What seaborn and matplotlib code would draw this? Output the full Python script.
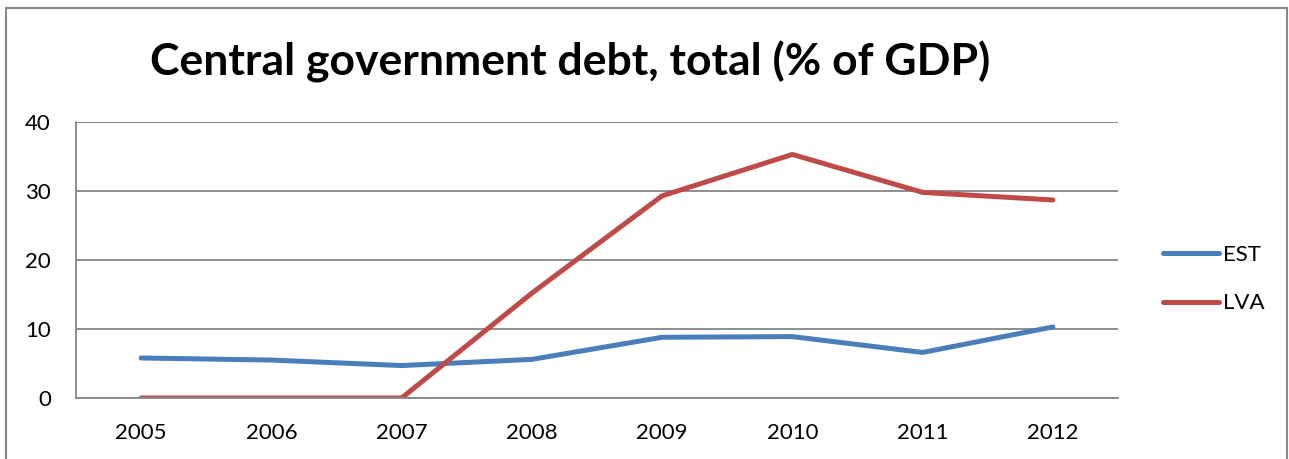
import numpy as np
import pandas as pd
import seaborn as sns
import matplotlib.pyplot as plt
from matplotlib.patches import Rectangle

years = ['2005', '2006', '2007', '2008', '2009', '2010', '2011', '2012']
est = [5.8, 5.5, 4.7, 5.6, 8.8, 8.9, 6.6, 10.3]
lva = [0.0, 0.0, 0.0, 15.2, 29.3, 35.3, 29.8, 28.7]
series = ['EST', 'LVA']
colors = ['#4A7EBB', '#BE4B48']

df = pd.DataFrame({
    'year': years * 2,
    'value': est + lva,
    'country': ['EST'] * len(years) + ['LVA'] * len(years),
})

sns.set_theme(style='white', rc={'text.color': 'black'})
plt.rcParams['font.family'] = ['Lato', 'DejaVu Sans']

fig = plt.figure(figsize=(12.89, 4.59), dpi=100)
ax = fig.add_axes([76 / 1289, 1 - 398 / 459, (1118 - 76) / 1289, (398 - 122) / 459])

sns.lineplot(data=df, x='year', y='value', hue='country', hue_order=series,
             palette=colors, linewidth=3.6, ax=ax, sort=False)
for line in ax.get_lines():
    line.set_solid_capstyle('round')
    line.set_solid_joinstyle('round')

ax.set_xlim(-0.5, len(years) - 0.5)
ax.set_ylim(0, 40)
ax.set_yticks([0, 10, 20, 30, 40])
ax.yaxis.grid(True, color='#868686', linewidth=1.3)
ax.set_axisbelow(True)
ax.tick_params(axis='both', length=0, labelsize=16, colors='black')
ax.tick_params(axis='y', pad=18)
ax.tick_params(axis='x', pad=18)
ax.set_xlabel('')
ax.set_ylabel('')
for s in ['top', 'right']:
    ax.spines[s].set_visible(False)
for s in ['left', 'bottom']:
    ax.spines[s].set_color('#868686')
    ax.spines[s].set_linewidth(1.3)

leg = ax.legend(loc='center left', bbox_to_anchor=(1143 / 1289, 1 - 279 / 459),
                bbox_transform=fig.transFigure, frameon=False, fontsize=16,
                handlelength=2.5, handletextpad=0.2, labelspacing=1.3)
for h in leg.get_lines():
    h.set_linewidth(3.6)
    h.set_solid_capstyle('round')
for t in leg.get_texts():
    t.set_color('black')

fig.text(570 / 1289, 1 - 62 / 459, 'Central government debt, total (% of GDP)',
         ha='center', va='center', fontsize=32, fontweight='bold', color='black')

fig.patches.append(Rectangle((6 / 1289, -0.05), (1287 - 6) / 1289, 1.05 - 8 / 459,
                             transform=fig.transFigure, fill=False,
                             edgecolor='#888888', linewidth=1.5))

fig.savefig('out.png', dpi=100)
